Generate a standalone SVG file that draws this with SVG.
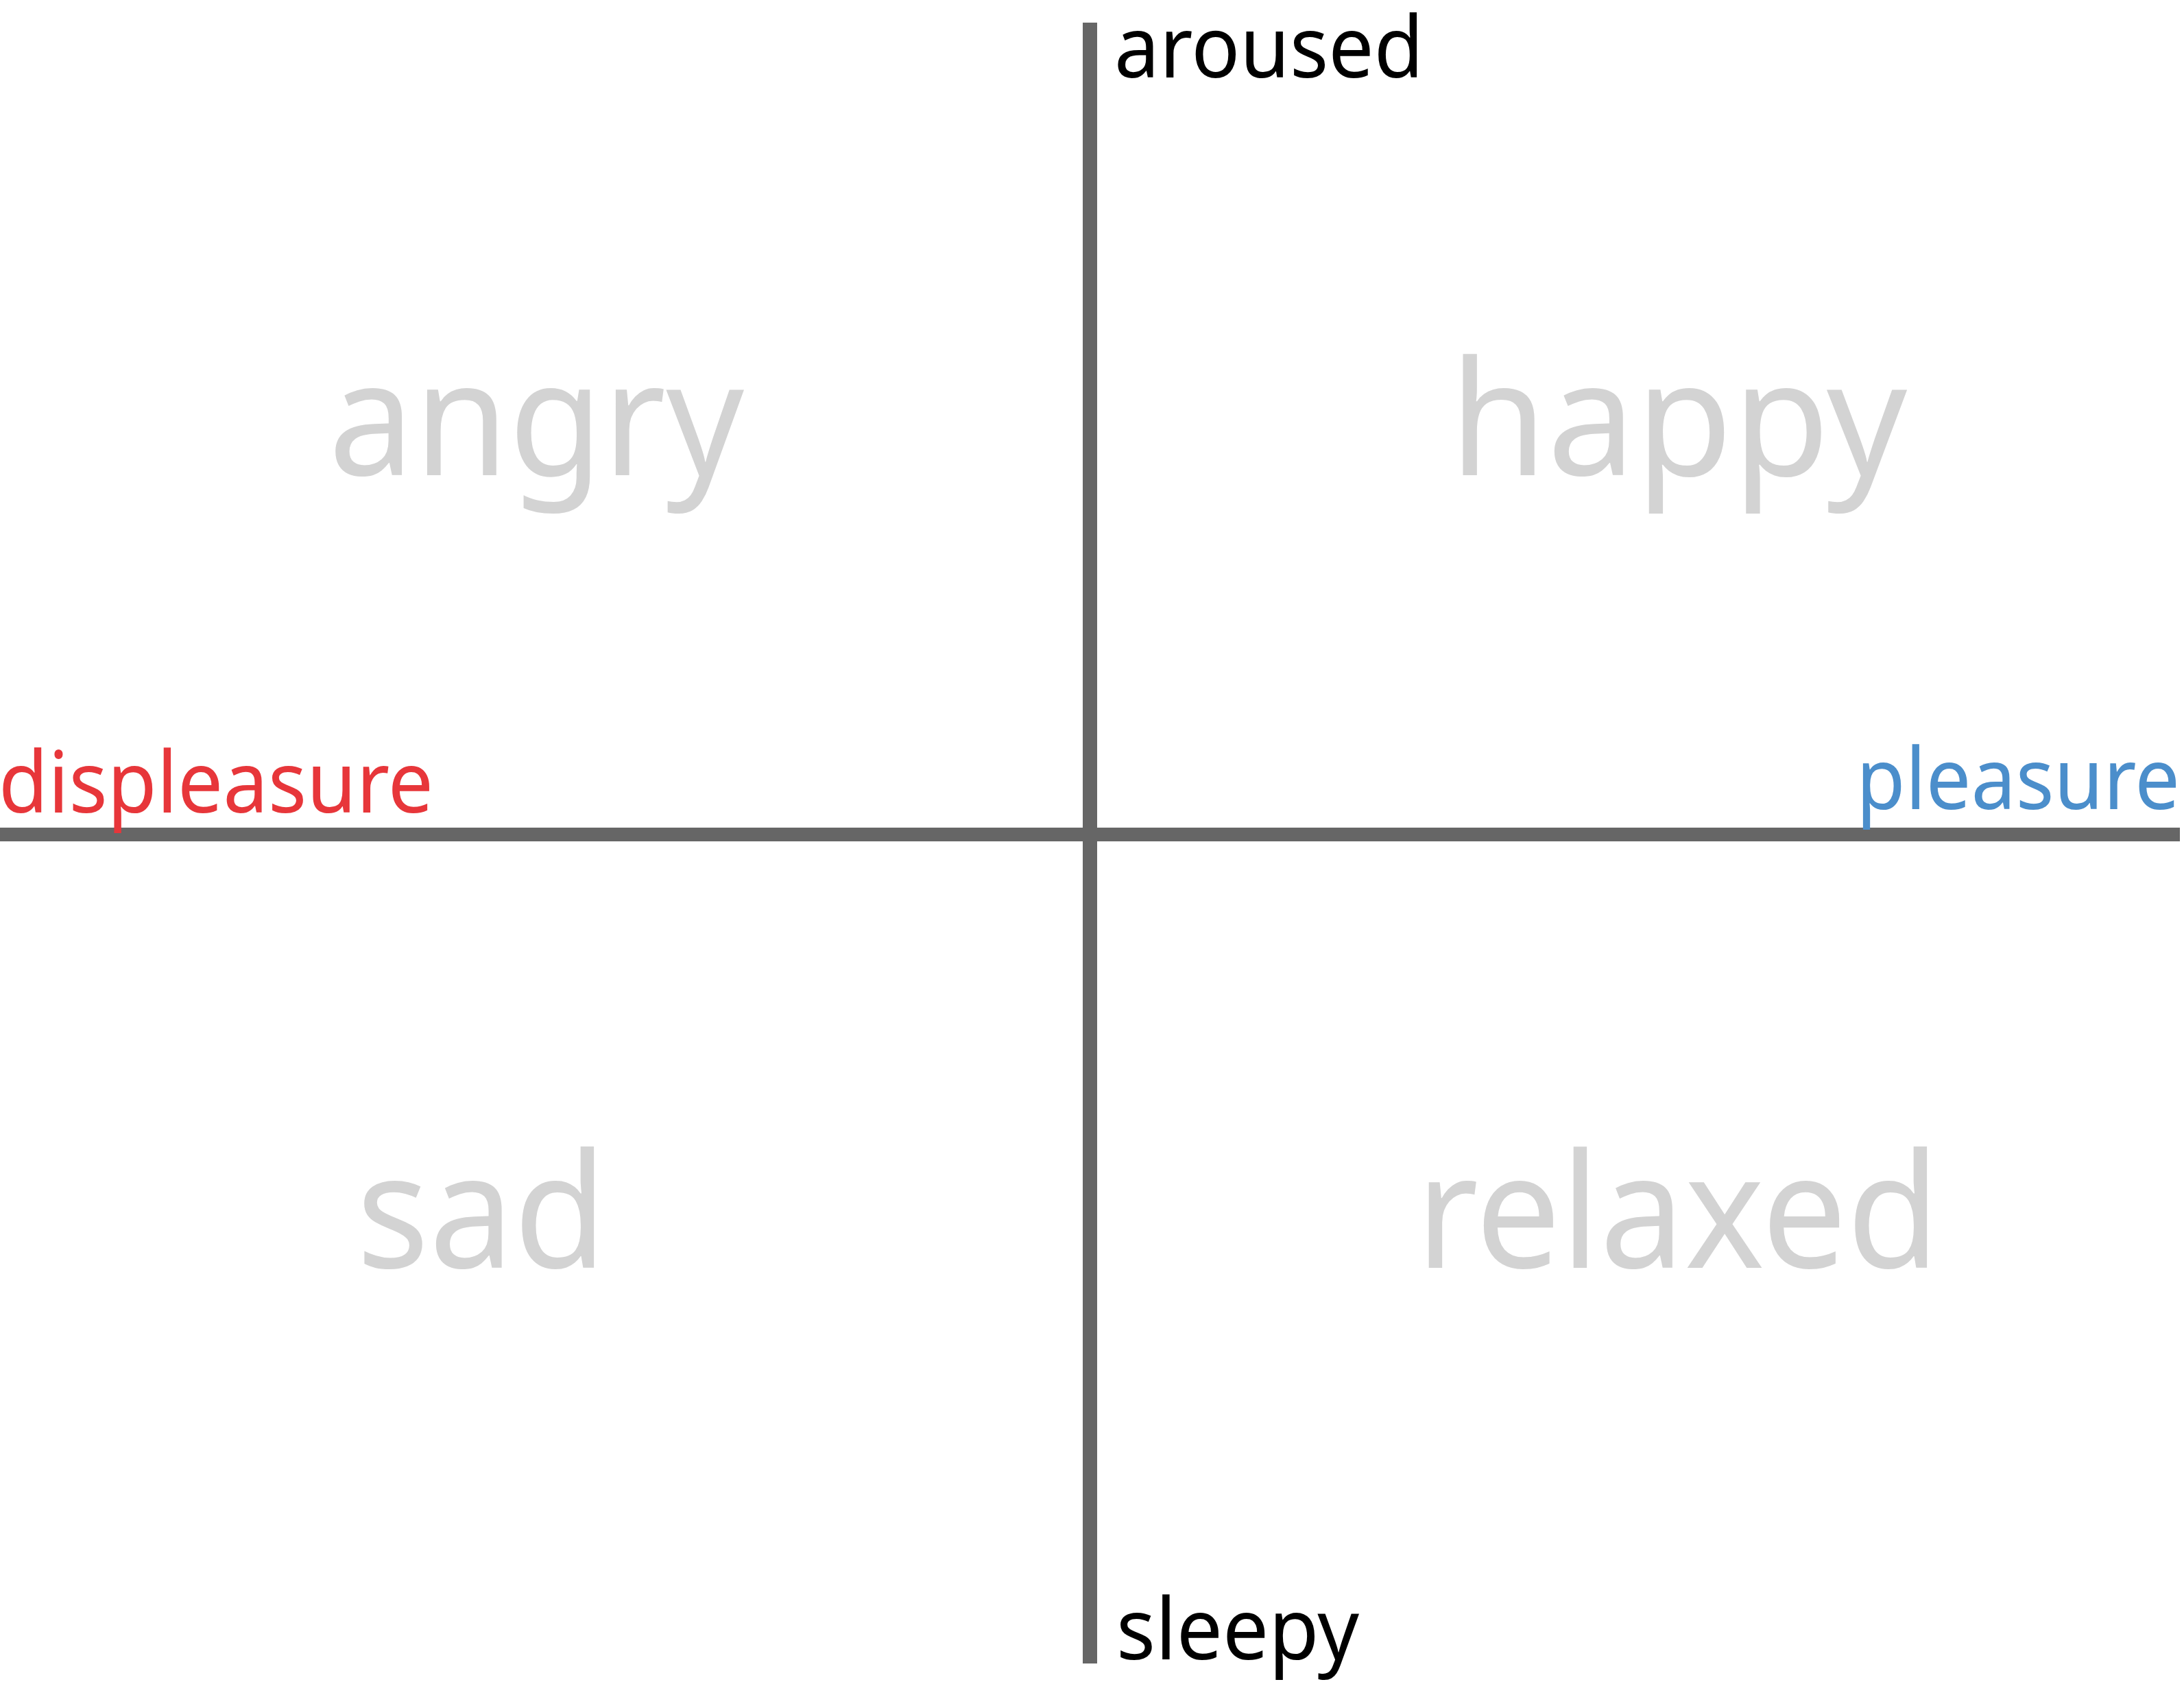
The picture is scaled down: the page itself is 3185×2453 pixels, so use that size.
<svg xmlns="http://www.w3.org/2000/svg" width="3185" height="2453" viewBox="0 0 3185 2453">
<style>
.axis{fill:#666666}
.lbl{font-family:"Noto Sans","Open Sans","Liberation Sans",sans-serif;font-size:125px}
.big{font-family:"Noto Sans","Open Sans","Liberation Sans",sans-serif;font-size:232px;fill:#d3d3d3}
</style>
<rect width="3185" height="2453" fill="#ffffff"/>
<g id="connectors">
<rect class="axis" x="1579" y="33" width="21" height="2393"/>
<rect class="axis" x="0" y="1207" width="3179" height="20"/>
</g>
<g id="aroused"><text class="lbl" x="1625" y="113" fill="#000000" textLength="451" lengthAdjust="spacingAndGlyphs">aroused</text></g>
<g id="sleepy"><text class="lbl" x="1628" y="2420" fill="#000000" textLength="354" lengthAdjust="spacingAndGlyphs">sleepy</text></g>
<g id="displeasure"><text class="lbl" x="-2" y="1185" fill="#e7363a" textLength="634" lengthAdjust="spacingAndGlyphs">displeasure</text></g>
<g id="pleasure"><text class="lbl" x="2707" y="1180" fill="#4b8ecb" textLength="472" lengthAdjust="spacingAndGlyphs">pleasure</text></g>
<g id="angry"><text class="big" x="479" y="693" textLength="606" lengthAdjust="spacingAndGlyphs">angry</text></g>
<g id="happy"><text class="big" x="2114" y="693" textLength="667" lengthAdjust="spacingAndGlyphs">happy</text></g>
<g id="sad"><text class="big" x="520" y="1849" textLength="365" lengthAdjust="spacingAndGlyphs">sad</text></g>
<g id="relaxed"><text class="big" x="2065" y="1849" textLength="764" lengthAdjust="spacingAndGlyphs">relaxed</text></g>
</svg>
